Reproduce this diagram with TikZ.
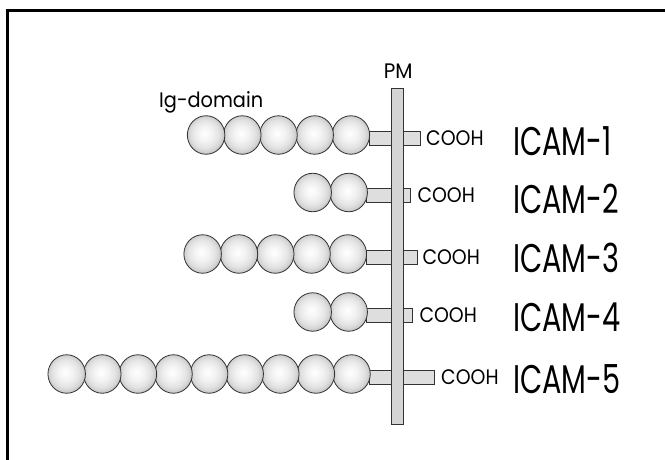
\documentclass[tikz,border=0pt]{standalone}
\usepackage{fontspec}
\setmainfont{Poppins}
\usetikzlibrary{shapes.geometric}
% soft sphere look for the Ig domains
\pgfdeclareradialshading{igball}{\pgfpoint{-2bp}{2bp}}{%
  color(0bp)=(white); color(10bp)=(black!5); color(18bp)=(black!11);
  color(23bp)=(black!18); color(25bp)=(black!24); color(50bp)=(black!24)}
\begin{document}
\begin{tikzpicture}[x=1pt,y=-1pt,
  igdomain/.style={ellipse, draw=black!80, line width=0.8pt, inner sep=0pt,
    minimum width=37.5pt, minimum height=38.5pt, shading=igball},
  stubbox/.style={rectangle, draw=black!80, fill=black!13, line width=0.7pt,
    inner sep=0pt, minimum height=14pt},
  membrane/.style={rectangle, draw=black!80, fill=black!17, line width=0.7pt,
    inner sep=0pt, minimum width=12pt, minimum height=336pt},
  bigtext/.style={anchor=base west, inner sep=0pt, font=\fontsize{40}{44}\selectfont},
  smalltext/.style={anchor=base west, inner sep=0pt, font=\fontsize{21}{24}\selectfont},
  frameline/.style={line width=2.6pt, black}]
\clip (0,0) rectangle (665,459);

% open frame: left and top edges only
\coordinate (fbottom) at (7.5,480);
\coordinate (fcorner) at (7.5,10.5);
\coordinate (fright) at (690,10.5);
\draw[frameline] (fbottom) -- (fcorner) -- (fright);

% rows: index / stub centre y / domains / pitch / stub left / stub right / COOH x / label baseline
\foreach \n/\y/\k/\p/\xl/\xr/\xc/\yb in {
    1/138/5/36.2/369/420/426/155,
    2/195.5/2/36/366.7/410.7/417.3/213,
    3/257/5/36.3/366/417.3/422.3/272,
    4/315/2/36/366.7/412.7/419.3/331.7,
    5/377/9/35.6/369.3/434/441/393.3} {
  \node[stubbox, minimum width={(\xr-\xl)*1pt}] (stub\n) at ({(\xl+\xr)/2},\y) {};
  \foreach \i in {1,...,\k} {
    \node[igdomain] (dom\n-\i) at ({\xl-\p*(\i-0.5)},{\y-3}) {};
  }
  \node[smalltext] (cooh\n) at (\xc,{\y+7}) {\scalebox{0.9}[1]{COOH}};
  \node[bigtext] (icam\n) at (513,\yb) {\scalebox{0.72}[1]{ICAM-\n}};
}

% plasma membrane
\node[membrane] (pm) at (397,256) {};
\node[anchor=base, inner sep=0pt, font=\fontsize{21}{24}\selectfont] (pmlabel) at (398.3,78.3) {\scalebox{0.95}[1]{PM}};
\node[anchor=base west, inner sep=0pt, font=\fontsize{21}{24}\selectfont] (iglabel) at (159,107.3) {\scalebox{0.92}[1]{Ig-domain}};
\end{tikzpicture}
\end{document}
